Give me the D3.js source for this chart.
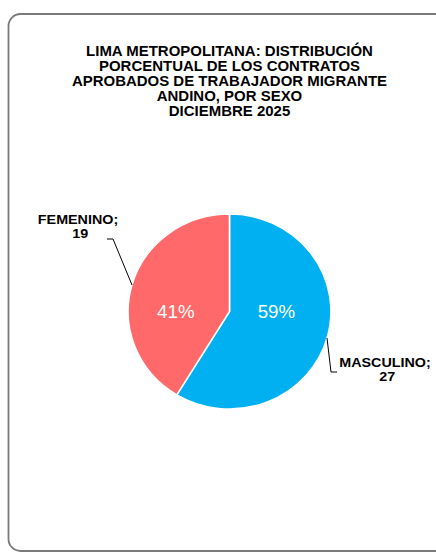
<!DOCTYPE html>
<html>
<head>
<meta charset="utf-8">
<script src="https://cdn.jsdelivr.net/npm/d3@7"></script>
<style>
  html, body { margin: 0; padding: 0; background: #fff; }
  svg { display: block; }
</style>
</head>
<body>
<div id="chart"></div>
<script>
const titleLines = [
  'LIMA METROPOLITANA: DISTRIBUCIÓN',
  'PORCENTUAL DE LOS CONTRATOS',
  'APROBADOS DE TRABAJADOR MIGRANTE',
  'ANDINO, POR SEXO',
  'DICIEMBRE 2025'
]
const categories = ['MASCULINO', 'FEMENINO']
const values = [27, 19]
const colors = ['#00B0F0', '#FF6969']

const width = 436
const height = 555
const font = '"Liberation Sans", Arial, sans-serif'
// the source picture is slightly stretched horizontally
const stretch = 1.07

const svg = d3.select('#chart')
  .append('svg')
  .attr('width', width)
  .attr('height', height)

// chart area frame
svg.append('rect')
  .attr('x', 8.5)
  .attr('y', 14)
  .attr('width', 450)
  .attr('height', 537)
  .attr('rx', 12)
  .attr('fill', '#fff')
  .attr('stroke', '#7a7a7a')
  .attr('stroke-width', 1.8)

const title = svg.append('text')
  .attr('transform', `translate(229.5,0) scale(${stretch},1)`)
  .attr('text-anchor', 'middle')
  .attr('font-family', font)
  .attr('font-weight', 'bold')
  .attr('font-size', 14)
  .attr('fill', '#000')
title.selectAll('tspan')
  .data(titleLines)
  .join('tspan')
  .attr('x', 0)
  .attr('y', (d, i) => 56 + i * 14.9)
  .text(d => d)

const cx = 229.5
const cy = 311.5
const radius = 97.5

const total = d3.sum(values)
const pie = d3.pie().sort(null).value(d => d)
const arcs = pie(values)

const arc = d3.arc().innerRadius(0).outerRadius(radius)

const g = svg.append('g')
  .attr('transform', `translate(${cx},${cy}) scale(1.04,1)`)

g.selectAll('path')
  .data(arcs)
  .join('path')
  .attr('d', arc)
  .attr('fill', (d, i) => colors[i])
  .attr('stroke', '#fff')
  .attr('stroke-width', 1.5)

// percent labels inside the slices
g.selectAll('text.pct')
  .data(arcs)
  .join('text')
  .attr('class', 'pct')
  .attr('transform', d => {
    const c = arc.centroid(d)
    const k = d.index === 0 ? 0.96 : 1.1
    return `translate(${c[0] * k},6.5) scale(${stretch / 1.04},1)`
  })
  .attr('text-anchor', 'middle')
  .attr('font-family', font)
  .attr('font-size', 17.5)
  .attr('fill', '#fff')
  .text(d => Math.round(d.data / total * 100) + '%')

// outside category labels with leader lines
const outer = [
  { i: 0, anchor: [385, 367], line: [[327, 338], [331, 372], [337, 372]] },
  { i: 1, anchor: [78, 224], line: [[107, 239], [113, 239], [132, 285]] }
]

svg.selectAll('path.leader')
  .data(outer)
  .join('path')
  .attr('class', 'leader')
  .attr('d', d => d3.line()(d.line))
  .attr('fill', 'none')
  .attr('stroke', '#000')
  .attr('stroke-width', 1)

const cat = svg.selectAll('text.cat')
  .data(outer)
  .join('text')
  .attr('class', 'cat')
  .attr('transform', d => `translate(${d.anchor[0]},${d.anchor[1]}) scale(${stretch},1)`)
  .attr('text-anchor', 'middle')
  .attr('font-family', font)
  .attr('font-weight', 'bold')
  .attr('font-size', 13.4)
  .attr('fill', '#000')

cat.append('tspan')
  .attr('x', 0)
  .attr('y', 0)
  .text(d => categories[d.i] + ';')
cat.append('tspan')
  .attr('x', 2)
  .attr('y', 14.5)
  .text(d => values[d.i])
</script>
</body>
</html>
